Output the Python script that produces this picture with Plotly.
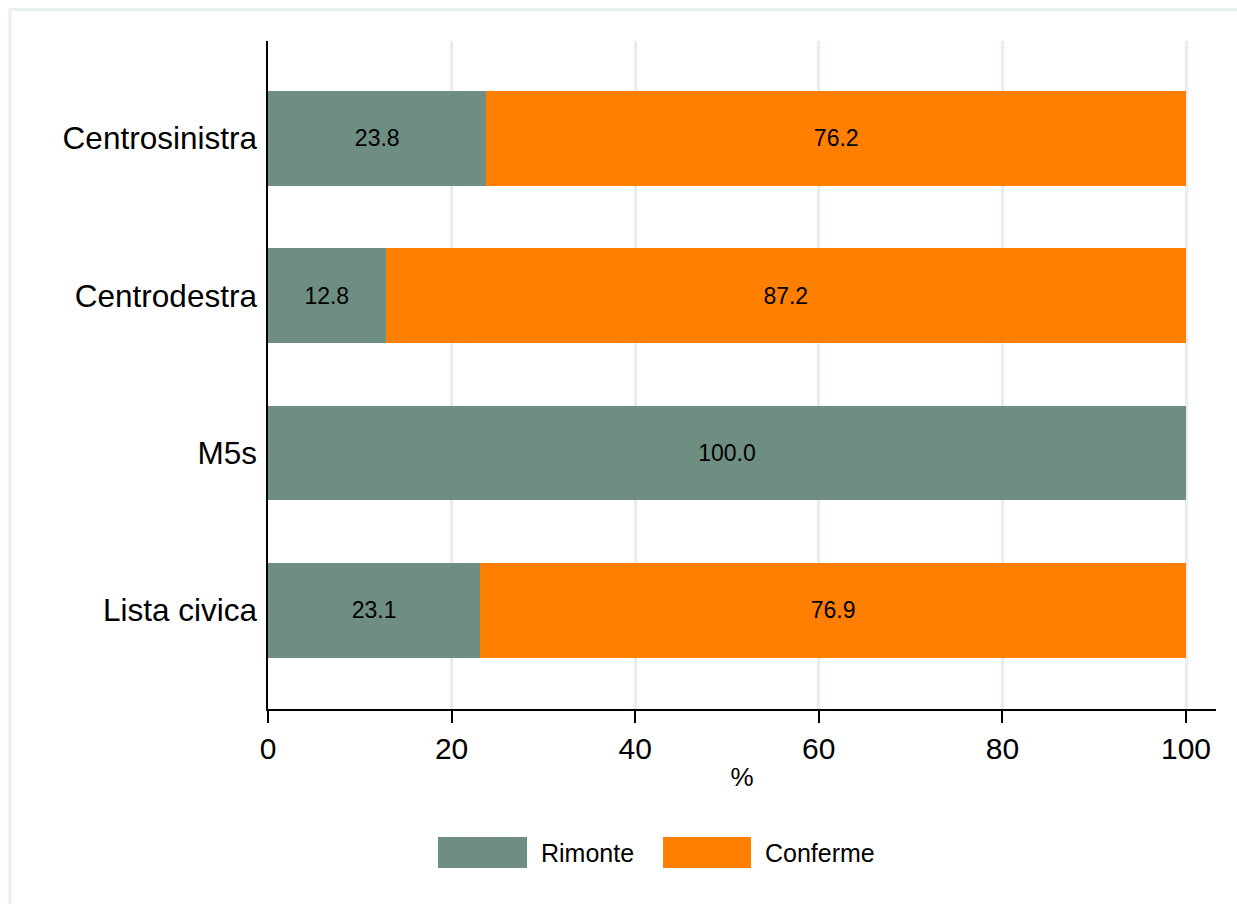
import plotly.graph_objects as go

# ---- data ----
categories = ["Centrosinistra", "Centrodestra", "M5s", "Lista civica"]
rimonte = [23.8, 12.8, 100.0, 23.1]
conferme = [76.2, 87.2, 0.0, 76.9]
series_names = ["Rimonte", "Conferme"]
x_ticks = [0, 20, 40, 60, 80, 100]
x_title = "%"

# ---- styling ----
W, H = 1237, 904
L, R, T, B = 268, 1216, 41, 709
GREEN = "#6e8e82"
ORANGE = "#ff8000"
GRID = "#e6eef1"
FONT = "Liberation Sans, Arial, sans-serif"


def px_x(px):
    return (px - L) / (R - L)


def px_y(py):
    return (B - py) / (B - T)


def lab(vals):
    return [f"{v:.1f}" if v else "" for v in vals]


fig = go.Figure()
for name, vals, col in [(series_names[0], rimonte, GREEN), (series_names[1], conferme, ORANGE)]:
    fig.add_trace(go.Bar(
        y=categories, x=vals, name=name, orientation="h",
        marker=dict(color=col, line=dict(width=0)),
        width=0.603,
        text=lab(vals), textposition="inside", insidetextanchor="middle",
        textangle=0, constraintext="none",
        textfont=dict(family=FONT, size=23, color="black"),
        showlegend=False, hoverinfo="x+y+name",
    ))

# x range: 0..100 maps 268..1186, axis extends to 1216
x_max = 100 * (R - L) / (1186 - L)

fig.update_layout(
    width=W, height=H,
    barmode="stack",
    paper_bgcolor="white", plot_bgcolor="white",
    margin=dict(l=L, r=W - R, t=T, b=H - B, pad=0),
    font=dict(family=FONT, color="black"),
    showlegend=False,
    xaxis=dict(
        range=[0, x_max], tickvals=x_ticks, ticktext=[str(t) for t in x_ticks],
        showgrid=True, gridcolor=GRID, gridwidth=3, zeroline=False,
        showline=True, linecolor="black", linewidth=1.5,
        ticks="outside", ticklen=12, tickwidth=1.5, tickcolor="black",
        tickfont=dict(size=30, family=FONT),
        ticklabelstandoff=0,
        title=dict(text=x_title, font=dict(size=26, family=FONT), standoff=4),
    ),
    yaxis=dict(
        categoryorder="array", categoryarray=categories,
        range=[3.626, -0.617],
        showgrid=False, zeroline=False,
        showline=True, linecolor="black", linewidth=1.5,
        ticks="", tickfont=dict(size=31.5, family=FONT),
        ticklabelstandoff=3,
    ),
)

shapes = []
# outer frame (light border, right/bottom edges outside the visible page)
shapes.append(dict(type="rect", xref="paper", yref="paper",
                   x0=px_x(10), x1=px_x(W + 20), y0=px_y(H + 20), y1=px_y(9.5),
                   line=dict(color="#e8eff2", width=3), fillcolor="rgba(0,0,0,0)",
                   layer="below"))

# custom legend
legend_items = [(series_names[0], GREEN, 438, 527, 539), (series_names[1], ORANGE, 663, 751, 763)]
annotations = []
for name, col, sx0, sx1, tx in legend_items:
    shapes.append(dict(type="rect", xref="paper", yref="paper",
                       x0=px_x(sx0), x1=px_x(sx1), y0=px_y(868), y1=px_y(837),
                       fillcolor=col, line=dict(width=0)))
    annotations.append(dict(text=name, xref="paper", yref="paper",
                            x=px_x(tx), y=px_y(853), xanchor="left", yanchor="middle",
                            showarrow=False,
                            font=dict(size=25, family=FONT, color="black")))

fig.update_layout(shapes=shapes, annotations=annotations)

fig.write_html(
    "out.html",
    config={"displayModeBar": False},
    post_script="document.body.style.margin='0';document.body.style.overflow='hidden';",
)
